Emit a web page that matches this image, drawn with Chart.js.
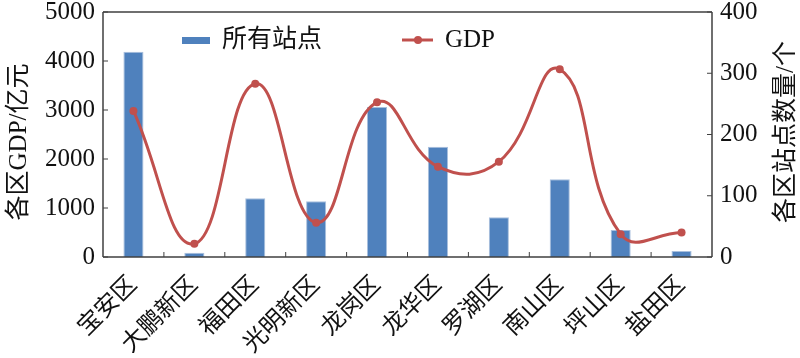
<!DOCTYPE html>
<html>
<head>
<meta charset="utf-8">
<script src="https://cdn.jsdelivr.net/npm/chart.js@4.4.1/dist/chart.umd.min.js"></script>
<style>
html,body{margin:0;padding:0;background:#fff;}
#wrap{width:800px;height:358px;position:relative;}
</style>
</head>
<body>
<div id="wrap"><canvas id="c" width="800" height="358"></canvas></div>
<script>
const categories = ['宝安区','大鹏新区','福田区','光明新区','龙岗区','龙华区','罗湖区','南山区','坪山区','盐田区'];
const stations = [335, 7, 96, 91, 245, 180, 65, 127, 44, 10];
const gdp = [2980, 270, 3537, 700, 3157, 1843, 1945, 3830, 465, 500];
const gdpTicks = [0, 1000, 2000, 3000, 4000, 5000];
const stationTicks = [0, 100, 200, 300, 400];
const leftTitle = '各区GDP/亿元';
const rightTitle = '各区站点数量/个';

const FONT = "'Liberation Serif', 'Noto Sans CJK SC', serif";
const BAR = '#4F81BD';
const LINE = '#C0504D';
const AXIS = '#404040';

const decor = {
  id: 'decor',
  afterDraw(chart) {
    const ctx = chart.ctx;
    const a = chart.chartArea;
    const y = chart.scales.y, y1 = chart.scales.y1;
    ctx.save();
    ctx.strokeStyle = AXIS;
    ctx.lineWidth = 1.5;
    ctx.beginPath();
    ctx.moveTo(a.left, a.top); ctx.lineTo(a.right, a.top);
    ctx.moveTo(a.left, a.top); ctx.lineTo(a.left, a.bottom);
    ctx.moveTo(a.right, a.top); ctx.lineTo(a.right, a.bottom);
    ctx.moveTo(a.left, a.bottom); ctx.lineTo(a.right, a.bottom);
    ctx.stroke();
    ctx.lineWidth = 1;
    ctx.beginPath();
    gdpTicks.forEach(v => { const py = y.getPixelForValue(v); ctx.moveTo(a.left, py); ctx.lineTo(a.left + 5, py); });
    stationTicks.forEach(v => { const py = y1.getPixelForValue(v); ctx.moveTo(a.right, py); ctx.lineTo(a.right - 5, py); });
    const w = (a.right - a.left) / categories.length;
    for (let i = 1; i < categories.length; i++) { const px = a.left + i * w; ctx.moveTo(px, a.bottom); ctx.lineTo(px, a.bottom - 5); }
    ctx.stroke();
    ctx.fillStyle = '#111';
    ctx.font = "25px " + FONT;
    ctx.textAlign = 'center';
    ctx.textBaseline = 'middle';
    ctx.save();
    ctx.translate(19, 142);
    ctx.rotate(-Math.PI / 2);
    ctx.fillText(leftTitle, 0, 0);
    ctx.restore();
    ctx.save();
    ctx.translate(786, 132);
    ctx.rotate(-Math.PI / 2);
    ctx.fillText(rightTitle, 0, 0);
    ctx.restore();
    const ds = chart.data.datasets;
    ctx.font = "25px " + FONT;
    ctx.textAlign = 'left';
    ctx.fillStyle = BAR;
    ctx.fillRect(182, 37, 28, 7);
    ctx.fillStyle = '#111';
    ctx.fillText(ds[1].label, 222, 40);
    ctx.strokeStyle = LINE;
    ctx.lineWidth = 3;
    ctx.beginPath(); ctx.moveTo(402, 40); ctx.lineTo(433, 40); ctx.stroke();
    ctx.fillStyle = LINE;
    ctx.beginPath(); ctx.arc(418, 40, 4, 0, Math.PI * 2); ctx.fill();
    ctx.fillStyle = '#111';
    ctx.fillText(ds[0].label, 445, 40);
    ctx.restore();
  }
};

const plain = v => String(v);

new Chart(document.getElementById('c'), {
  type: 'bar',
  data: {
    labels: categories,
    datasets: [
      {
        type: 'line', label: 'GDP', data: gdp, yAxisID: 'y',
        borderColor: LINE, backgroundColor: LINE, borderWidth: 3,
        pointRadius: 4, pointBackgroundColor: LINE, pointBorderWidth: 0,
        tension: 0.45, order: 0
      },
      {
        type: 'bar', label: '所有站点', data: stations, yAxisID: 'y1',
        backgroundColor: BAR, borderColor: '#a8bfdd', borderWidth: 1,
        barPercentage: 0.33, categoryPercentage: 1.0, order: 1
      }
    ]
  },
  options: {
    responsive: false,
    animation: false,
    devicePixelRatio: 1,
    layout: { padding: { top: 12, left: 0, right: 0, bottom: 0 } },
    plugins: { legend: { display: false }, tooltip: { enabled: false } },
    scales: {
      x: {
        grid: { display: false, drawTicks: false },
        border: { display: false },
        afterFit(s) { s.height = 101; s.paddingLeft = 0; s.paddingRight = 0; },
        ticks: { color: '#111', font: { family: FONT, size: 24 }, maxRotation: 45, minRotation: 45, padding: 14, autoSkip: false }
      },
      y: {
        position: 'left', min: 0, max: 5000,
        afterFit(s) { s.width = 103; s.paddingTop = 0; s.paddingBottom = 0; },
        afterBuildTicks(s) { s.ticks = gdpTicks.map(v => ({ value: v })); },
        grid: { display: false, drawTicks: false },
        border: { display: false },
        ticks: { color: '#111', font: { family: FONT, size: 25 }, padding: 8, callback: plain }
      },
      y1: {
        position: 'right', min: 0, max: 400,
        afterFit(s) { s.width = 88; s.paddingTop = 0; s.paddingBottom = 0; },
        afterBuildTicks(s) { s.ticks = stationTicks.map(v => ({ value: v })); },
        grid: { display: false, drawTicks: false },
        border: { display: false },
        ticks: { color: '#111', font: { family: FONT, size: 25 }, padding: 8, callback: plain }
      }
    }
  },
  plugins: [decor]
});
</script>
</body>
</html>
